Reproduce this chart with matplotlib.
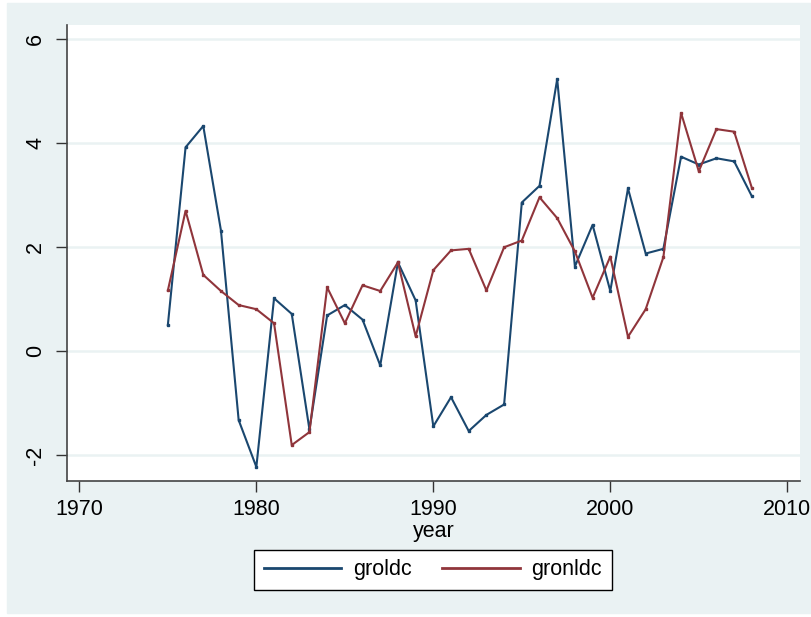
import matplotlib.pyplot as plt
from matplotlib.patches import Rectangle

years = list(range(1975, 2009))

groldc = [0.51, 3.92, 4.33, 2.32, -1.32, -2.22, 1.02, 0.72, -1.50, 0.69,
          0.89, 0.61, -0.27, 1.71, 0.98, -1.44, -0.88, -1.53, -1.22, -1.02,
          2.86, 3.18, 5.23, 1.63, 2.43, 1.16, 3.13, 1.88, 1.97, 3.74,
          3.59, 3.71, 3.65, 2.98]

gronldc = [1.17, 2.70, 1.47, 1.16, 0.89, 0.81, 0.54, -1.80, -1.55, 1.23,
           0.54, 1.27, 1.16, 1.71, 0.29, 1.56, 1.94, 1.97, 1.17, 2.00,
           2.13, 2.96, 2.56, 1.92, 1.03, 1.82, 0.28, 0.81, 1.81, 4.58,
           3.46, 4.27, 4.22, 3.14]

x_ticks = [1970, 1980, 1990, 2000, 2010]
y_ticks = [-2, 0, 2, 4, 6]

bg = "#EAF2F3"
navy = "#1a476f"
maroon = "#90353b"

plt.rcParams['font.family'] = ['Liberation Sans', 'DejaVu Sans']

fig = plt.figure(figsize=(8.11, 6.17), dpi=100, facecolor="white")
fig.patches.append(Rectangle((7 / 811, 4 / 617), 1 - 7 / 811, 1 - 7 / 617,
                             transform=fig.transFigure, color=bg, zorder=-10))

ax = fig.add_axes([67 / 811, 136 / 617, 733 / 811, 456 / 617])
ax.set_facecolor("white")

# gridlines
for v in y_ticks:
    ax.axhline(v, color=bg, lw=1.8, zorder=1)

ax.plot(years, groldc, color=navy, lw=1.5, marker='s', markersize=2,
        label="groldc", zorder=3)
ax.plot(years, gronldc, color=maroon, lw=1.5, marker='s', markersize=2,
        label="gronldc", zorder=3)

ax.set_xlim(1969.3, 2010.72)
ax.set_ylim(-2.49, 6.27)
ax.set_xticks(x_ticks)
ax.set_yticks(y_ticks)
ax.set_yticklabels([str(v) for v in y_ticks], rotation=90, va="center")
ax.tick_params(axis='both', labelsize=15.5, length=8, width=1,
               color="#333333", direction='out')
ax.tick_params(axis='y', pad=7)
ax.tick_params(axis='x', pad=5)

for side in ["top", "right"]:
    ax.spines[side].set_visible(False)
for side in ["left", "bottom"]:
    ax.spines[side].set_color("#444444")
    ax.spines[side].set_linewidth(1.2)

ax.set_xlabel("year", fontsize=15.5, labelpad=1)

leg = fig.legend(loc="center", bbox_to_anchor=(433 / 811, 47 / 617), ncol=2,
                 fontsize=15.5, frameon=True, fancybox=False, framealpha=1,
                 handlelength=3.6, columnspacing=1.4, handletextpad=0.55,
                 borderpad=0.45, borderaxespad=0)
leg.get_frame().set_edgecolor("black")
leg.get_frame().set_facecolor("white")
leg.get_frame().set_linewidth(1)
for line in leg.get_lines():
    line.set_marker("")
    line.set_linewidth(2)

fig.savefig("out.png", dpi=100, facecolor=fig.get_facecolor())
